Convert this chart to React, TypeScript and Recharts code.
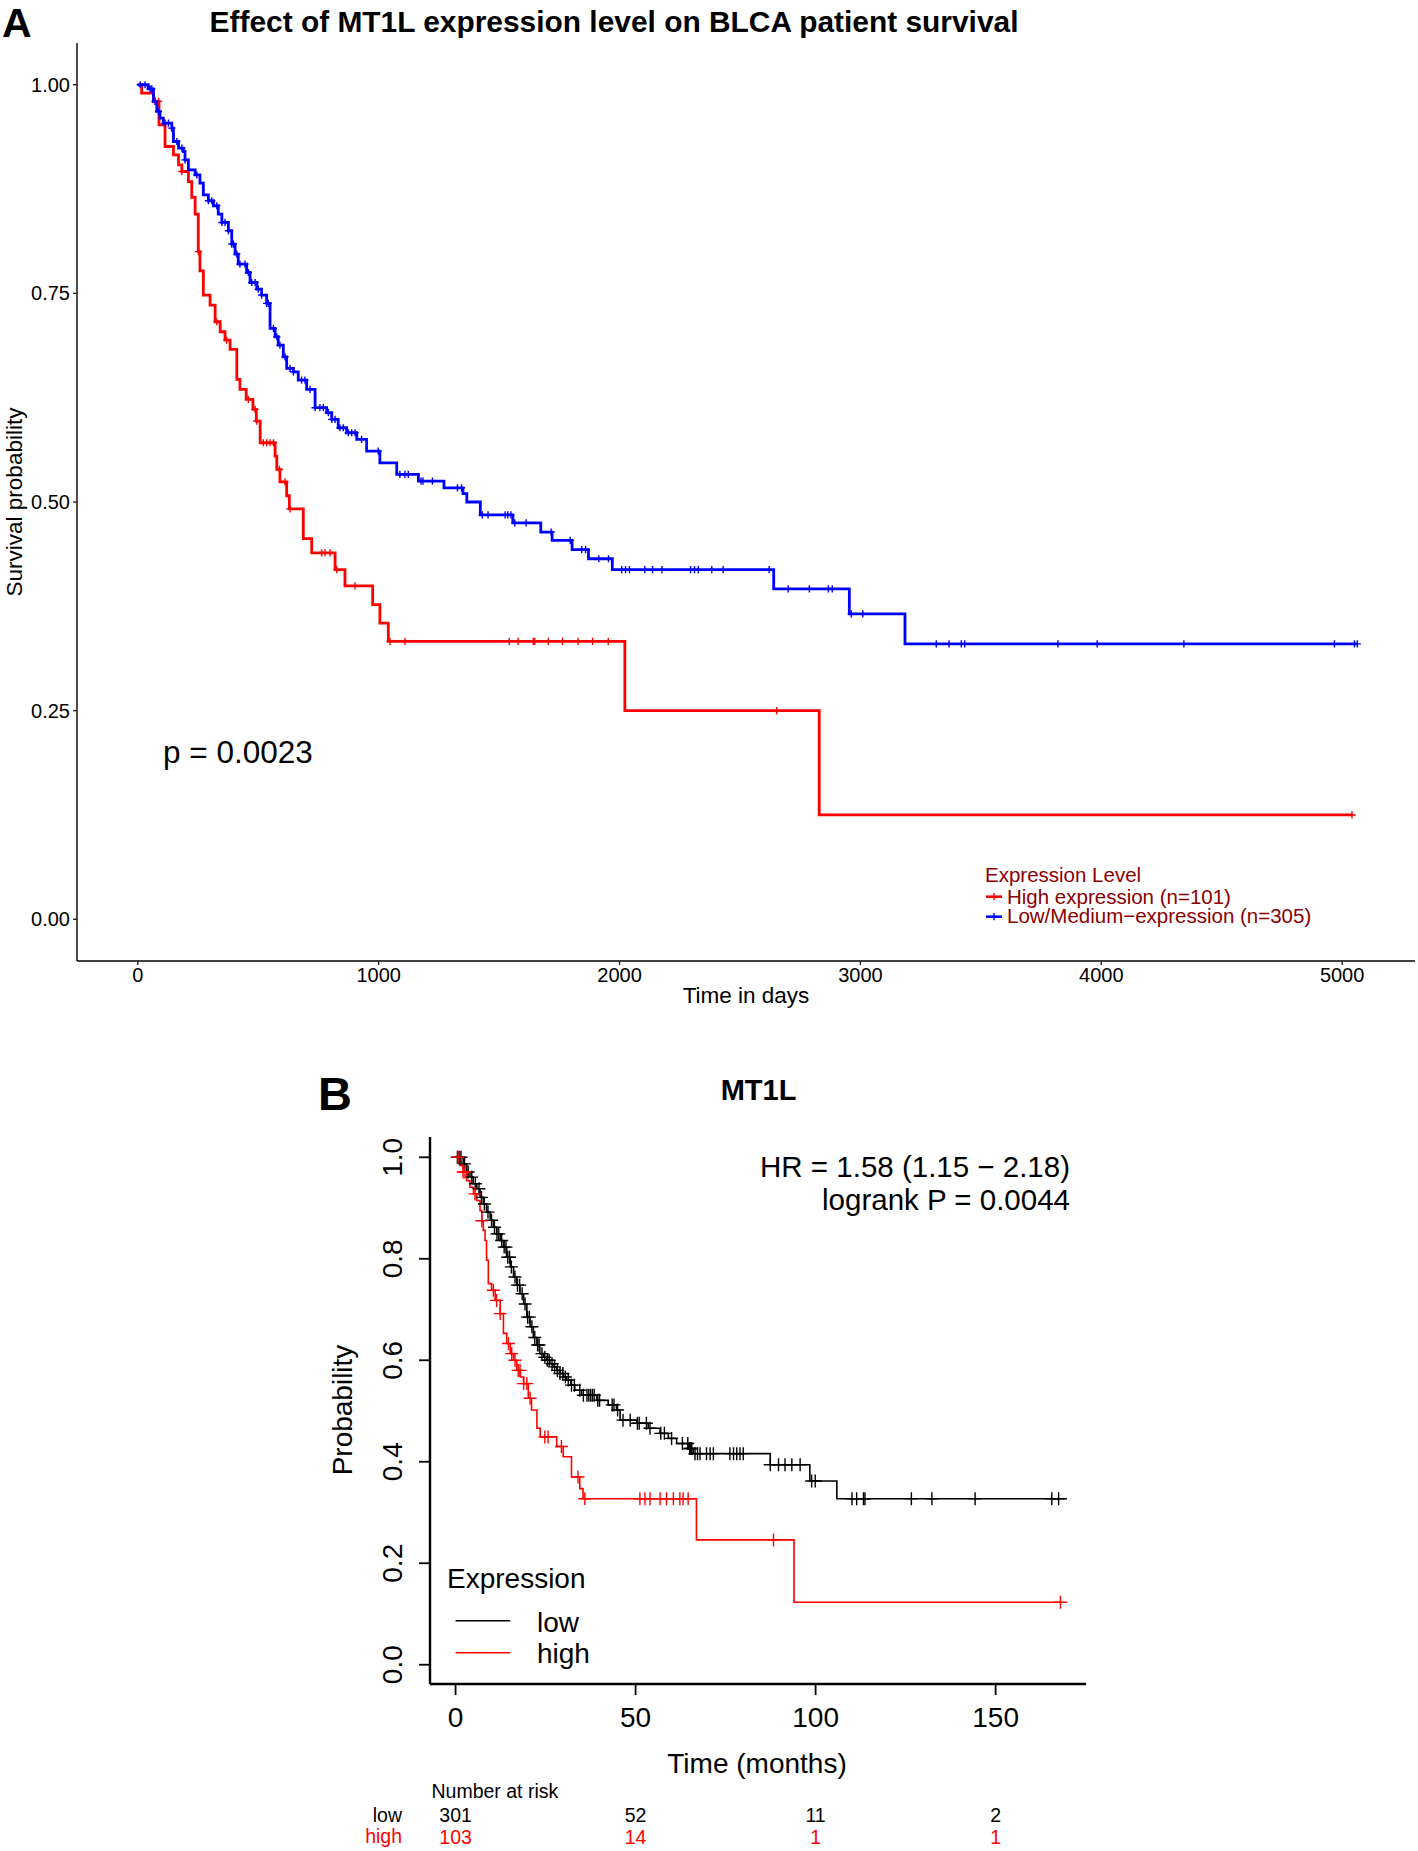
import React from 'react';
import { ComposedChart, Line, Scatter, XAxis, YAxis } from 'recharts';

type Step = [number, number];

// ---------- Panel A (days) ----------
const aTitle = 'Effect of MT1L expression level on BLCA patient survival';
const aXTicks = [0, 1000, 2000, 3000, 4000, 5000];
const aYTicks = [0, 0.25, 0.5, 0.75, 1];

const aHighSteps: Step[] = [
  [0, 1], [16, 0.99], [65, 0.98], [88, 0.952], [113, 0.926], [148, 0.916], [169, 0.904], [183, 0.896],
  [210, 0.884], [224, 0.865], [238, 0.845], [251, 0.8], [258, 0.777], [272, 0.748], [300, 0.736],
  [321, 0.716], [342, 0.704], [362, 0.694], [383, 0.683], [411, 0.647], [424, 0.635], [450, 0.623],
  [478, 0.611], [492, 0.597], [508, 0.571], [570, 0.555], [577, 0.539], [590, 0.524], [618, 0.5075],
  [629, 0.4917], [687, 0.456], [722, 0.439], [819, 0.419], [860, 0.3996], [975, 0.377], [1005, 0.3548],
  [1040, 0.333], [2022, 0.25], [2829, 0.125], [5041, 0.125],
];
const aHighCensor = [72, 86, 183, 252, 328, 369, 459, 487, 494, 521, 535, 549, 563, 588, 611, 632, 763, 777,
  798, 826, 902, 1047, 1109, 1542, 1579, 1642, 1648, 1704, 1763, 1828, 1888, 1953, 2652, 5041];

const aLowSteps: Step[] = [
  [0, 1], [43, 0.995], [65, 0.98], [79, 0.968], [92, 0.96], [106, 0.954], [141, 0.948], [148, 0.932],
  [169, 0.924], [189, 0.92], [196, 0.91], [210, 0.898], [238, 0.892], [258, 0.882], [272, 0.868],
  [293, 0.861], [314, 0.855], [334, 0.845], [349, 0.835], [376, 0.825], [390, 0.809], [404, 0.797],
  [417, 0.785], [452, 0.775], [466, 0.763], [494, 0.755], [514, 0.748], [535, 0.738], [549, 0.708],
  [570, 0.698], [583, 0.688], [604, 0.674], [618, 0.66], [646, 0.656], [666, 0.646], [701, 0.635],
  [736, 0.613], [784, 0.607], [805, 0.599], [832, 0.589], [867, 0.583], [909, 0.575], [950, 0.561],
  [1005, 0.547], [1075, 0.533], [1165, 0.525], [1271, 0.517], [1350, 0.51], [1366, 0.5], [1422, 0.4845],
  [1557, 0.475], [1673, 0.464], [1720, 0.454], [1803, 0.443], [1871, 0.432], [1970, 0.419], [2640, 0.396],
  [2954, 0.366], [3185, 0.33], [5063, 0.33],
];
const aLowCensor = [10, 30, 51, 58, 72, 86, 113, 127, 141, 162, 183, 196, 245, 293, 307, 328, 349, 362, 376,
  390, 397, 411, 424, 445, 459, 473, 487, 500, 514, 535, 542, 563, 577, 590, 611, 632, 646, 680, 694, 715,
  736, 756, 770, 791, 805, 819, 839, 853, 874, 888, 902, 929, 998, 1088, 1109, 1123, 1176, 1184, 1223, 1327,
  1344, 1430, 1454, 1525, 1536, 1549, 1565, 1612, 1716, 1795, 1843, 1859, 1914, 1954, 2009, 2025, 2041,
  2105, 2137, 2176, 2295, 2311, 2327, 2383, 2430, 2621, 2700, 2788, 2867, 2883, 2962, 3010, 3315, 3368,
  3419, 3433, 3820, 3983, 4343, 4968, 5051, 5063];

const aLegendTitle = 'Expression Level';
const aLegendHigh = 'High expression (n=101)';
const aLegendLow = 'Low/Medium\u2212expression (n=305)';
const aPText = 'p = 0.0023';

// ---------- Panel B (months) ----------
const bTitle = 'MT1L';
const bXTicks = [0, 50, 100, 150];
const bYTicks = [0, 0.2, 0.4, 0.6, 0.8, 1.0];

const bLowSteps: Step[] = [
  [0, 1], [2.1, 0.987], [3.1, 0.971], [4.0, 0.961], [4.9, 0.948], [5.9, 0.938], [6.8, 0.921], [7.7, 0.908],
  [8.6, 0.892], [9.6, 0.876], [10.5, 0.862], [11.4, 0.849], [12.4, 0.836], [13.3, 0.823], [14.2, 0.803],
  [15.2, 0.784], [16.1, 0.764], [17.0, 0.748], [17.9, 0.731], [18.9, 0.711], [19.8, 0.685], [20.7, 0.666],
  [21.6, 0.645], [22.6, 0.63], [23.4, 0.613], [24.4, 0.606], [25.3, 0.6], [26.2, 0.593], [27.1, 0.587],
  [28.1, 0.58], [29.0, 0.574], [30.0, 0.567], [30.8, 0.561], [32.0, 0.551], [33.1, 0.541], [35.0, 0.531],
  [39.2, 0.521], [42.4, 0.512], [44.7, 0.502], [45.7, 0.482], [50.3, 0.476], [53.5, 0.466], [56.8, 0.456],
  [59.1, 0.446], [61.4, 0.436], [64.7, 0.426], [66.0, 0.416], [87.4, 0.394], [98.4, 0.362], [105.9, 0.327],
  [169.8, 0.327],
];
const bLowCensor = [0.5, 1, 1.5, 2.5, 3.5, 4.5, 5.5, 6.5, 7.2, 8, 9, 10, 10.8, 11.5, 12, 12.8, 13.5, 14, 14.5,
  15, 15.5, 16.5, 17.2, 17.8, 18.5, 19.3, 20, 20.5, 21.2, 22, 22.8, 23.2, 24, 24.8, 25.5, 26, 26.8, 27.5, 28.3,
  29, 29.8, 30.5, 31.3, 32.2, 33, 34.5, 35.5, 36.5, 37, 37.5, 38, 38.5, 39.5, 40, 43.5, 44, 45, 46.5, 48.5,
  50.5, 51, 53, 54, 57, 58, 60, 63, 64.5, 65, 65.3, 65.6, 66.5, 67.2, 67.9, 69.7, 70.7, 71.6, 76.2, 77.2, 78.1,
  79.0, 79.9, 87.4, 89.7, 91.5, 93.4, 95.7, 98.9, 99.9, 110.1, 111.4, 113.3, 113.7, 126.6, 132.3, 144.3,
  165.6, 167.5];

const bHighSteps: Step[] = [
  [0, 1], [1.2, 0.984], [2.1, 0.971], [3.1, 0.954], [4.0, 0.941], [5.0, 0.928], [5.9, 0.915], [6.8, 0.895],
  [7.3, 0.875], [7.7, 0.856], [8.2, 0.836], [8.6, 0.797], [9.1, 0.751], [10.0, 0.738], [11.0, 0.718],
  [12.4, 0.692], [13.3, 0.653], [14.2, 0.633], [15.2, 0.613], [16.1, 0.6], [17.0, 0.58], [18.0, 0.567],
  [18.9, 0.554], [20.2, 0.525], [21.1, 0.502], [22.6, 0.466], [23.5, 0.449], [28.1, 0.43], [29.9, 0.41],
  [32.2, 0.37], [34.5, 0.347], [35.4, 0.327], [66.9, 0.246], [94.0, 0.123], [168.0, 0.123],
];
const bHighCensor = [0.7, 2.1, 2.6, 5.4, 7.3, 10.5, 11.4, 12.4, 14.7, 15.6, 16.5, 17.4, 17.9, 18.9, 19.8, 20.7,
  24.8, 25.7, 29.4, 34.0, 35.9, 51.2, 52.6, 54.0, 56.8, 58.6, 60.5, 62.3, 63.2, 64.6, 88.3, 168.0];

const riskTimes = [0, 50, 100, 150];
const riskLow = [301, 52, 11, 2];
const riskHigh = [103, 14, 1, 1];

const bHR = 'HR = 1.58 (1.15 \u2212 2.18)';
const bLogrank = 'logrank P = 0.0044';

// ---------- helpers ----------
const FONT = "'Liberation Sans', Arial, Helvetica, sans-serif";

function survAt(steps: Step[], t: number): number {
  let s = steps[0][1];
  for (const [tt, ss] of steps) {
    if (tt <= t + 1e-9) s = ss;
    else break;
  }
  return s;
}
const toLine = (steps: Step[]) => steps.map(([t, s]) => ({ t, s }));
const toCensor = (steps: Step[], times: number[]) => times.map((t) => ({ t, s: survAt(steps, t) }));

const makeCross = (half: number, color: string, width: number) => (props: any) => {
  const { cx, cy } = props;
  if (cx == null || cy == null) return <g />;
  return (
    <path
      d={`M${cx - half},${cy}H${cx + half}M${cx},${cy - half}V${cy + half}`}
      stroke={color}
      strokeWidth={width}
      fill="none"
    />
  );
};

const BXTick = (props: any) => {
  const { x, y, payload } = props;
  const i = riskTimes.indexOf(payload.value);
  return (
    <g>
      <text x={x} y={y + 31.5} textAnchor="middle" fontSize={28} fill="#000" fontFamily={FONT}>
        {payload.value}
      </text>
      {i >= 0 && (
        <text x={x} y={y + 126.5} textAnchor="middle" fontSize={19.5} fill="#000" fontFamily={FONT}>
          {riskLow[i]}
        </text>
      )}
      {i >= 0 && (
        <text x={x} y={y + 148.5} textAnchor="middle" fontSize={19.5} fill="#FF0000" fontFamily={FONT}>
          {riskHigh[i]}
        </text>
      )}
    </g>
  );
};

const BYTick = (props: any) => {
  const { x, y, payload } = props;
  const bx = x - 17;
  return (
    <text
      x={bx}
      y={y}
      transform={`rotate(-90, ${bx}, ${y})`}
      textAnchor="middle"
      fontSize={28}
      fill="#000"
      fontFamily={FONT}
    >
      {Number(payload.value).toFixed(1)}
    </text>
  );
};

export default function App() {
  const aHighLine = toLine(aHighSteps);
  const aLowLine = toLine(aLowSteps);
  const aHighC = toCensor(aHighSteps, aHighCensor);
  const aLowC = toCensor(aLowSteps, aLowCensor);

  const bHighLine = toLine(bHighSteps);
  const bLowLine = toLine(bLowSteps);
  const bHighC = toCensor(bHighSteps, bHighCensor);
  const bLowC = toCensor(bLowSteps, bLowCensor);

  return (
    <div style={{ position: 'absolute', left: 0, top: 0, width: 1418, height: 1851, background: '#fff', fontFamily: FONT }}>
      {/* Panel A */}
      <div style={{ position: 'absolute', left: 0, top: 0 }}>
        <ComposedChart width={1418} height={1010} margin={{ top: 43, right: 3, bottom: 0, left: 0 }}>
          <XAxis
            dataKey="t"
            type="number"
            domain={[-252.5, 5302.5]}
            ticks={aXTicks}
            interval={0}
            allowDataOverflow
            height={49}
            tickSize={4}
            tickMargin={3}
            tick={{ fontSize: 20, fill: '#000', fontFamily: FONT }}
            axisLine={{ stroke: '#000', strokeWidth: 1.4 }}
            tickLine={{ stroke: '#222', strokeWidth: 1.4 }}
          />
          <YAxis
            dataKey="s"
            type="number"
            domain={[-0.05, 1.05]}
            ticks={aYTicks}
            interval={0}
            allowDataOverflow
            width={77}
            tickSize={4}
            tickMargin={3}
            tickFormatter={(v: number) => v.toFixed(2)}
            tick={{ fontSize: 20, fill: '#000', fontFamily: FONT }}
            axisLine={{ stroke: '#000', strokeWidth: 1.4 }}
            tickLine={{ stroke: '#222', strokeWidth: 1.4 }}
          />
          <Line data={aHighLine} dataKey="s" type="stepAfter" stroke="#FF0000" strokeWidth={2.8} dot={false} activeDot={false} isAnimationActive={false} />
          <Line data={aLowLine} dataKey="s" type="stepAfter" stroke="#0000FF" strokeWidth={2.8} dot={false} activeDot={false} isAnimationActive={false} />
          <Scatter data={aHighC} dataKey="s" shape={makeCross(3.6, '#FF0000', 1.4)} isAnimationActive={false} />
          <Scatter data={aLowC} dataKey="s" shape={makeCross(3.6, '#0000FF', 1.4)} isAnimationActive={false} />
        </ComposedChart>
      </div>

      {/* Panel B */}
      <div style={{ position: 'absolute', left: 0, top: 1060 }}>
        <ComposedChart width={1418} height={800} margin={{ top: 77, right: 332, bottom: 116, left: 370 }}>
          <XAxis
            dataKey="t"
            type="number"
            domain={[-7.1, 175.1]}
            ticks={bXTicks}
            interval={0}
            allowDataOverflow
            height={60}
            tickSize={11}
            tickMargin={0}
            tick={(p: any) => <BXTick {...p} />}
            axisLine={{ stroke: '#000', strokeWidth: 2.4 }}
            tickLine={{ stroke: '#000', strokeWidth: 1.8 }}
          />
          <XAxis
            xAxisId="top"
            orientation="top"
            type="number"
            domain={[-7.1, 175.1]}
            allowDataOverflow
            height={0}
            tick={false}
            tickLine={false}
            axisLine={{ stroke: '#000', strokeWidth: 2.4 }}
          />
          <YAxis
            dataKey="s"
            type="number"
            domain={[-0.038, 1.04]}
            ticks={bYTicks}
            interval={0}
            allowDataOverflow
            width={60}
            tickSize={11}
            tickMargin={0}
            tick={(p: any) => <BYTick {...p} />}
            axisLine={{ stroke: '#000', strokeWidth: 2.4 }}
            tickLine={{ stroke: '#000', strokeWidth: 1.8 }}
          />
          <YAxis
            yAxisId="right"
            orientation="right"
            type="number"
            domain={[-0.038, 1.04]}
            allowDataOverflow
            width={0}
            tick={false}
            tickLine={false}
            axisLine={{ stroke: '#000', strokeWidth: 2.4 }}
          />
          <Line data={bLowLine} dataKey="s" type="stepAfter" stroke="#000" strokeWidth={1.6} dot={false} activeDot={false} isAnimationActive={false} />
          <Line data={bHighLine} dataKey="s" type="stepAfter" stroke="#FF0000" strokeWidth={1.6} dot={false} activeDot={false} isAnimationActive={false} />
          <Scatter data={bLowC} dataKey="s" shape={makeCross(6.5, '#000', 1.4)} isAnimationActive={false} />
          <Scatter data={bHighC} dataKey="s" shape={makeCross(6.5, '#FF0000', 1.4)} isAnimationActive={false} />
        </ComposedChart>
      </div>

      {/* Text overlay */}
      <svg
        width={1418}
        height={1851}
        style={{ position: 'absolute', left: 0, top: 0, pointerEvents: 'none' }}
        fontFamily={FONT}
      >
        <text x={2} y={37} fontSize={41} fontWeight="bold" fill="#000">A</text>
        <text x={614} y={32} textAnchor="middle" fontSize={29.9} fontWeight="bold" fill="#000">{aTitle}</text>
        <text transform="translate(21.5,502) rotate(-90)" textAnchor="middle" fontSize={22.5} fill="#000">Survival probability</text>
        <text x={746} y={1003} textAnchor="middle" fontSize={22.5} fill="#000">Time in days</text>
        <text x={163} y={763} fontSize={31.5} fill="#000">{aPText}</text>

        <text x={985} y={881.5} fontSize={20.5} fill="#8B0000">{aLegendTitle}</text>
        <line x1={986} x2={1002} y1={896.7} y2={896.7} stroke="#FF0000" strokeWidth={2.6} />
        <path d="M990.4,896.7H997.6M994,893.1V900.3" stroke="#FF0000" strokeWidth={1.4} />
        <text x={1007} y={904} fontSize={20.5} fill="#8B0000">{aLegendHigh}</text>
        <line x1={986} x2={1002} y1={916.7} y2={916.7} stroke="#0000FF" strokeWidth={2.6} />
        <path d="M990.4,916.7H997.6M994,913.1V920.3" stroke="#0000FF" strokeWidth={1.4} />
        <text x={1007} y={923.3} fontSize={20.5} fill="#8B0000">{aLegendLow}</text>

        <text x={318} y={1110} fontSize={47} fontWeight="bold" fill="#000">B</text>
        <text x={758.5} y={1100} textAnchor="middle" fontSize={29} fontWeight="bold" fill="#000">{bTitle}</text>
        <text x={1070} y={1177} textAnchor="end" fontSize={29.5} fill="#000">{bHR}</text>
        <text x={1070} y={1210} textAnchor="end" fontSize={29.5} fill="#000">{bLogrank}</text>
        <text transform="translate(352,1410) rotate(-90)" textAnchor="middle" fontSize={28} fill="#000">Probability</text>
        <text x={757} y={1773} textAnchor="middle" fontSize={28} fill="#000">Time (months)</text>

        <text x={447} y={1588} fontSize={28} fill="#000">Expression</text>
        <line x1={455.6} x2={510.2} y1={1620.7} y2={1620.7} stroke="#000" strokeWidth={1.6} />
        <text x={537} y={1631.7} fontSize={28} fill="#000">low</text>
        <line x1={455.6} x2={510.2} y1={1652.7} y2={1652.7} stroke="#FF0000" strokeWidth={1.6} />
        <text x={537} y={1663.3} fontSize={28} fill="#000">high</text>

        <text x={431.5} y={1797.5} fontSize={19.5} fill="#000">Number at risk</text>
        <text x={402} y={1821.7} textAnchor="end" fontSize={19.5} fill="#000">low</text>
        <text x={402} y={1843.3} textAnchor="end" fontSize={19.5} fill="#FF0000">high</text>
      </svg>
    </div>
  );
}
